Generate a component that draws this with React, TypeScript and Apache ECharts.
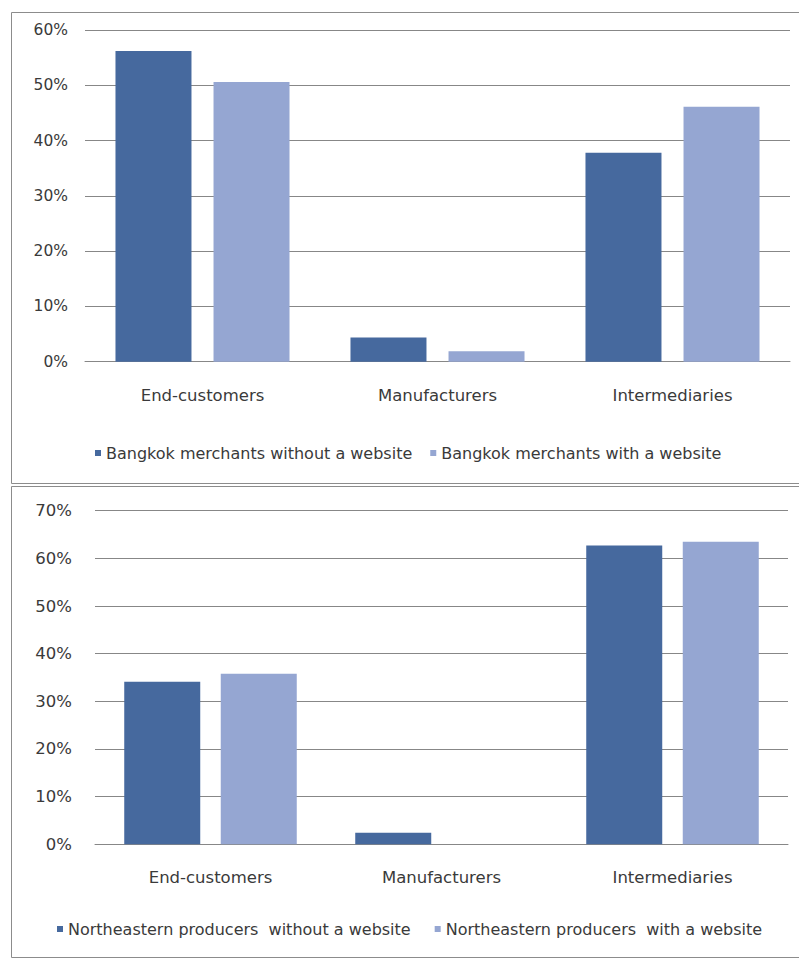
import React, { useEffect, useRef } from "react";
import * as echarts from "echarts";

const categories = ["End-customers", "Manufacturers", "Intermediaries"];
const bangkokWithout = [56.2, 4.4, 37.8];
const bangkokWith = [50.6, 1.9, 46.1];
const northeastWithout = [34.1, 2.4, 62.7];
const northeastWith = [35.8, 0, 63.5];
const topSeriesNames = ["Bangkok merchants without a website", "Bangkok merchants with a website"];
const bottomSeriesNames = ["Northeastern producers  without a website", "Northeastern producers  with a website"];

const DARK = "#46699e";
const LIGHT = "#95a6d2";
const GRID = "#878787";
const TEXT = "#3a3a3a";
const FONT = "DejaVu Sans";

export default function App() {
  const ref = useRef<HTMLDivElement>(null);
  useEffect(() => {
    document.body.style.margin = "0";
    const chart = echarts.init(ref.current!, null, { renderer: "svg" });
    const yAxisBase = (max: number, margin: number, size: number) => ({
      type: "value" as const,
      min: 0,
      max,
      interval: 10,
      axisLine: { show: false },
      axisTick: { show: false },
      splitLine: { lineStyle: { color: GRID, width: 1 } },
      axisLabel: { formatter: "{value}%", color: TEXT, fontFamily: FONT, fontSize: size, margin },
    });
    const xAxisBase = (gridIndex: number, margin: number) => ({
      type: "category" as const,
      gridIndex,
      data: categories,
      axisLine: { lineStyle: { color: GRID, width: 1 } },
      axisTick: { show: false },
      axisLabel: { color: TEXT, fontFamily: FONT, fontSize: 16.5, margin },
    });
    const legendText = { color: TEXT, fontFamily: FONT, fontSize: 16 };
    chart.setOption({
      animation: false,
      backgroundColor: "#ffffff",
      graphic: [
        { type: "rect", shape: { x: 11.5, y: 12.5, width: 800, height: 471 }, style: { fill: "none", stroke: "#8c8c8c", lineWidth: 1 } },
        { type: "rect", shape: { x: 11.5, y: 486.5, width: 800, height: 471 }, style: { fill: "none", stroke: "#8c8c8c", lineWidth: 1 } },
      ],
      grid: [
        { left: 85, right: 9, top: 30, bottom: 598.3 },
        { left: 95, right: 11, top: 510.7, bottom: 115.7 },
      ],
      xAxis: [xAxisBase(0, 25), xAxisBase(1, 25)],
      yAxis: [
        { ...yAxisBase(60, 17, 15.5), gridIndex: 0 },
        { ...yAxisBase(70, 23, 16.5), gridIndex: 1 },
      ],
      legend: [
        {
          data: topSeriesNames,
          left: 90,
          top: 440,
          icon: "rect",
          itemWidth: 6,
          itemHeight: 6,
          itemGap: 18,
          textStyle: legendText,
        },
        {
          data: bottomSeriesNames,
          left: 52,
          top: 916,
          icon: "rect",
          itemWidth: 6,
          itemHeight: 6,
          itemGap: 24,
          textStyle: legendText,
        },
      ],
      series: [
        { name: topSeriesNames[0], type: "bar", xAxisIndex: 0, yAxisIndex: 0, data: bangkokWithout, barWidth: 76, barGap: "29%", itemStyle: { color: DARK } },
        { name: topSeriesNames[1], type: "bar", xAxisIndex: 0, yAxisIndex: 0, data: bangkokWith, barWidth: 76, barGap: "29%", itemStyle: { color: LIGHT } },
        { name: bottomSeriesNames[0], type: "bar", xAxisIndex: 1, yAxisIndex: 1, data: northeastWithout, barWidth: 76, barGap: "27%", itemStyle: { color: DARK } },
        { name: bottomSeriesNames[1], type: "bar", xAxisIndex: 1, yAxisIndex: 1, data: northeastWith, barWidth: 76, barGap: "27%", itemStyle: { color: LIGHT } },
      ],
    });
    return () => chart.dispose();
  }, []);
  return <div ref={ref} style={{ width: 799, height: 960 }} />;
}
